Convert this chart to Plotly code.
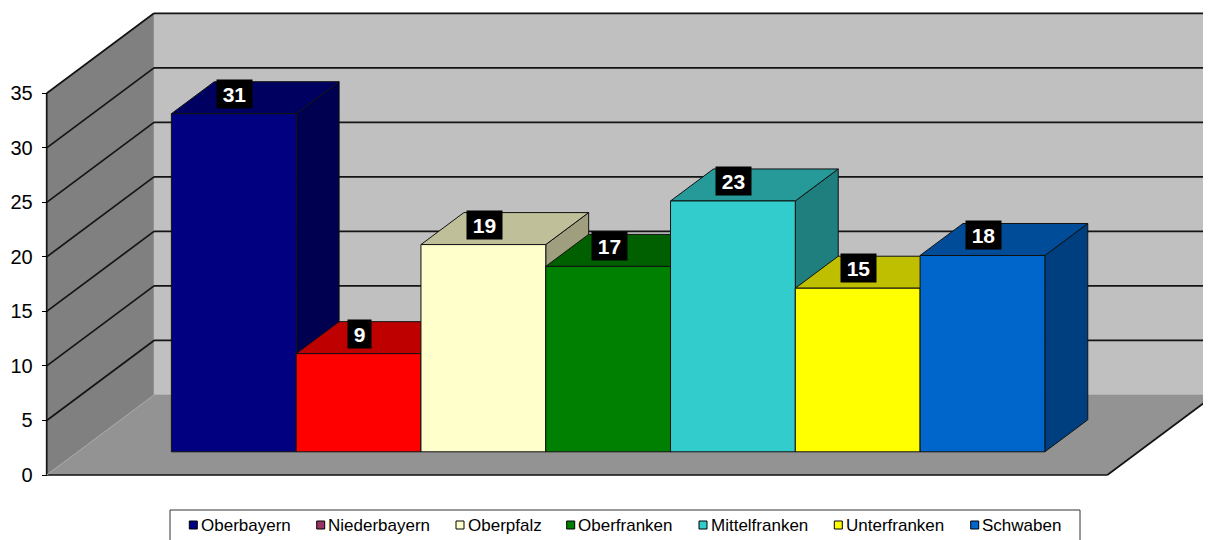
import plotly.graph_objects as go

# ---------------- data ----------------
regions = ["Oberbayern", "Niederbayern", "Oberpfalz", "Oberfranken",
           "Mittelfranken", "Unterfranken", "Schwaben"]
values = [31, 9, 19, 17, 23, 15, 18]
bar_colors = ["#000080", "#FF0000", "#FFFFCC", "#008000",
              "#33CCCC", "#FFFF00", "#0066CC"]
legend_colors = ["#000080", "#993366", "#FFFFCC", "#008000",
                 "#33CCCC", "#FFFF00", "#0066CC"]
y_ticks = [0, 5, 10, 15, 20, 25, 30, 35]

# ---------------- layout / geometry constants ----------------
OFF = 8                # page body margin in the browser
W, H = 1211 - OFF, 540 - OFF
PX_X = 124.78          # pixels per bar width
PX_Y = 10.906          # pixels per value unit
ORIGIN_PX = (46.7 - OFF, 475.0 - OFF)
PLOT_L, PLOT_R, PLOT_T, PLOT_B = 32, W, 0, 472
GAP = 0.75                          # gap (in bar widths) on each side of the group
FLOOR_W = 2 * GAP + len(values)
DEPTH_DX = 107.3 / PX_X             # oblique depth shift, x units
DEPTH_DY = 80.0 / PX_Y              # oblique depth shift, value units
BAR_D0, BAR_D1 = 0.29, 0.69
Y_MAX = y_ticks[-1]
FONT = "Liberation Sans, Arial, sans-serif"

LEGEND_BOX = (170 - OFF, 510 - OFF, 1080 - OFF, 560)
LEGEND_MARK_X = [m - OFF for m in [189.3, 316.7, 456.0, 566.7, 699.0, 834.3, 970.7]]
LEGEND_Y = 525 - OFF
MARK = 8


def shade(hexc, f):
    h = hexc.lstrip("#")
    r, g, b = (int(h[i:i + 2], 16) for i in (0, 2, 4))
    return "#{:02X}{:02X}{:02X}".format(int(r * f), int(g * f), int(b * f))


def P(x, v, d):
    return (x + d * DEPTH_DX, v + d * DEPTH_DY)


def poly(pts, fill, line_color="#000000", lw=1.0):
    xs = [p[0] for p in pts] + [pts[0][0]]
    ys = [p[1] for p in pts] + [pts[0][1]]
    return go.Scatter(x=xs, y=ys, mode="lines", fill="toself", fillcolor=fill,
                      line=dict(color=line_color, width=lw),
                      hoverinfo="skip", showlegend=False)


def segs(pairs, color, lw):
    xs, ys = [], []
    for a, b in pairs:
        xs += [a[0], b[0], None]
        ys += [a[1], b[1], None]
    return go.Scatter(x=xs, y=ys, mode="lines", line=dict(color=color, width=lw),
                      hoverinfo="skip", showlegend=False)


traces = []
# walls
traces.append(poly([P(0, 0, 0), P(0, 0, 1), P(0, Y_MAX, 1), P(0, Y_MAX, 0)], "#808080", "#808080", 0.5))
traces.append(poly([P(0, 0, 1), P(FLOOR_W, 0, 1), P(FLOOR_W, Y_MAX, 1), P(0, Y_MAX, 1)], "#C0C0C0", "#C0C0C0", 0.5))
traces.append(poly([P(0, 0, 0), P(FLOOR_W, 0, 0), P(FLOOR_W, 0, 1), P(0, 0, 1)], "#939393", "#939393", 0.5))

# gridlines on walls
grid_pairs = []
for v in y_ticks[1:]:
    grid_pairs.append((P(0, v, 0), P(0, v, 1)))
    grid_pairs.append((P(0, v, 1), P(FLOOR_W, v, 1)))
traces.append(segs(grid_pairs, "#141414", 1.7))

# wall edges
edge_pairs = [
    (P(0, 0, 0), P(0, Y_MAX, 0)),
    (P(0, 0, 0), P(FLOOR_W, 0, 0)),
    (P(FLOOR_W, 0, 0), P(FLOOR_W, 0, 1)),
]
traces.append(segs(edge_pairs, "#141414", 1.7))
traces.append(segs([(P(0, 0, 0), P(0, 0, 1))], "#A8A8A8", 1.0))

# bars
annotations = []
for i, (name, v, c) in enumerate(zip(regions, values, bar_colors)):
    x0 = GAP + i
    x1 = x0 + 1
    side = [P(x1, 0, BAR_D0), P(x1, 0, BAR_D1), P(x1, v, BAR_D1), P(x1, v, BAR_D0)]
    top = [P(x0, v, BAR_D0), P(x1, v, BAR_D0), P(x1, v, BAR_D1), P(x0, v, BAR_D1)]
    front = [P(x0, 0, BAR_D0), P(x1, 0, BAR_D0), P(x1, v, BAR_D0), P(x0, v, BAR_D0)]
    traces.append(poly(side, shade(c, 0.625), "#111111", 1.0))
    traces.append(poly(top, shade(c, 0.75), "#111111", 1.0))
    traces.append(poly(front, c, "#111111", 1.0))
    ax, ay = P(x0 + 0.5, v, BAR_D0)
    txt = str(v)
    annotations.append(dict(
        x=ax, y=ay, xref="x", yref="y", text="<b>%s</b>" % txt, showarrow=False,
        xshift=1, yshift=20, font=dict(family=FONT, size=21, color="white"),
        bgcolor="black", width=12 * len(txt) + 11, height=28, borderpad=0,
        align="center", valign="middle"))

# ---------------- manual legend ----------------
def pxp(px):
    return (px - PLOT_L) / (PLOT_R - PLOT_L)


def pyp(py):
    return (PLOT_B - py) / (PLOT_B - PLOT_T)


shapes = [dict(type="rect", xref="paper", yref="paper",
               x0=pxp(LEGEND_BOX[0]), x1=pxp(LEGEND_BOX[2]),
               y0=pyp(LEGEND_BOX[3]), y1=pyp(LEGEND_BOX[1]),
               line=dict(color="#333333", width=1), fillcolor="white", layer="above")]
for name, col, mx in zip(regions, legend_colors, LEGEND_MARK_X):
    shapes.append(dict(type="rect", xref="paper", yref="paper",
                       x0=pxp(mx), x1=pxp(mx + MARK),
                       y0=pyp(LEGEND_Y + MARK / 2), y1=pyp(LEGEND_Y - MARK / 2),
                       line=dict(color="black", width=1), fillcolor=col, layer="above"))
    annotations.append(dict(x=pxp(mx + MARK + 1.5), y=pyp(LEGEND_Y), xref="paper", yref="paper",
                            text=name, showarrow=False, xanchor="left", yanchor="middle",
                            font=dict(family=FONT, size=17, color="black")))

fig = go.Figure(traces)

xr = [(PLOT_L - ORIGIN_PX[0]) / PX_X, (PLOT_R - ORIGIN_PX[0]) / PX_X]
yr = [(ORIGIN_PX[1] - PLOT_B) / PX_Y, (ORIGIN_PX[1] - PLOT_T) / PX_Y]

fig.update_layout(
    width=W, height=H,
    margin=dict(l=PLOT_L, r=W - PLOT_R, t=PLOT_T, b=H - PLOT_B, autoexpand=False),
    paper_bgcolor="white", plot_bgcolor="white",
    showlegend=False,
    xaxis=dict(range=xr, visible=False, fixedrange=True),
    yaxis=dict(range=yr, anchor="free", position=(ORIGIN_PX[0] - PLOT_L) / (PLOT_R - PLOT_L),
               tickvals=y_ticks, ticktext=[str(t) for t in y_ticks],
               ticks="outside", ticklen=5, tickwidth=1, tickcolor="#000000",
               showline=False, showgrid=False, zeroline=False, fixedrange=True,
               tickfont=dict(family=FONT, size=20, color="black"),
               ticklabelstandoff=5),
    annotations=annotations,
    shapes=shapes,
)

fig.write_html("out.html")
